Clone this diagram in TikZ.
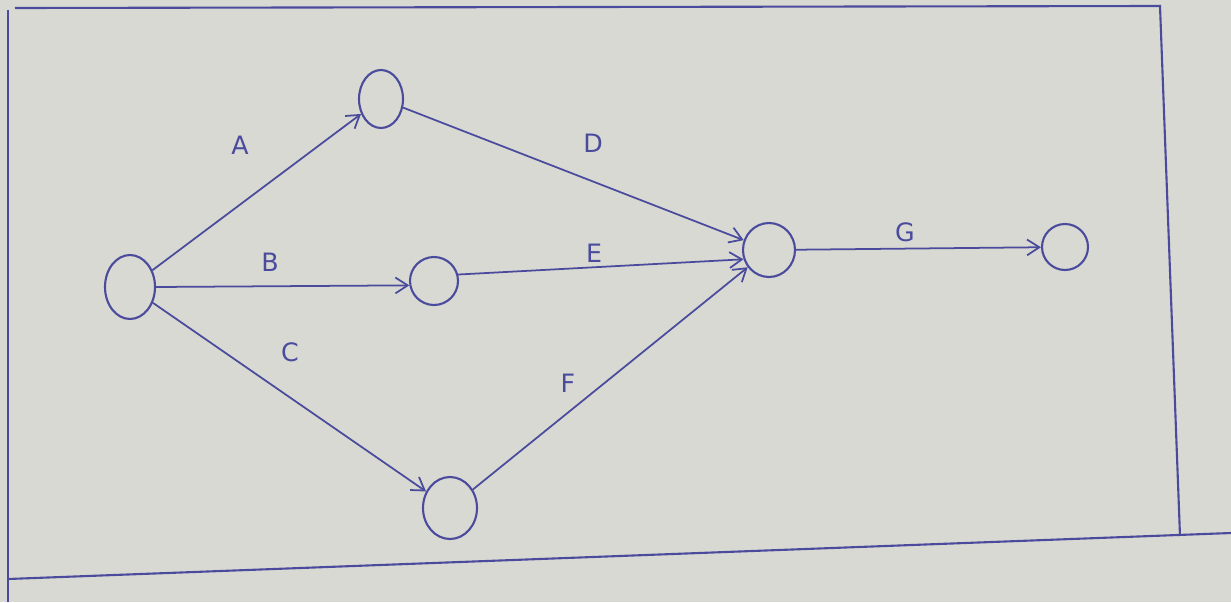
\documentclass[tikz,border=0pt]{standalone}
\usepackage{fontspec}
\setsansfont{DejaVu Sans}
\usetikzlibrary{arrows.meta,shapes.geometric}
\definecolor{pen}{HTML}{4B4B9E}
\definecolor{paper}{HTML}{D8D9D2}
\begin{document}
\begin{tikzpicture}[x=0.02cm,y=-0.02cm,
  ev/.style={draw=pen,line width=1.2pt,ellipse,inner sep=0pt},
  act/.style={draw=pen,line width=1pt,-{Straight Barb[length=7pt,width=9pt]}},
  lab/.style={text=pen,font=\sffamily\Large},
  frame/.style={draw=pen,line width=1.2pt}]
\fill[paper] (0,0) rectangle (1231,602);
\useasboundingbox (0,0) rectangle (1231,602);
% frame
\coordinate (f1) at (15,8);
\coordinate (f2) at (1160,6);
\coordinate (f3) at (1180,536);
\coordinate (f4) at (1231,533);
\coordinate (f5) at (8,579);
\coordinate (f6) at (8,602);
\coordinate (f7) at (8,10);
\draw[frame] (f1) -- (f2) -- (f3);
\draw[frame] (f5) -- (f4);
\draw[frame] (f7) -- (f6);
% events
\node[ev,minimum width=1.0cm,minimum height=1.28cm] (n1) at (130,287) {};
\node[ev,minimum width=0.88cm,minimum height=1.16cm] (n2) at (381,99) {};
\node[ev,minimum width=0.96cm,minimum height=0.96cm] (n3) at (434,281) {};
\node[ev,minimum width=1.08cm,minimum height=1.24cm] (n4) at (450,508) {};
\node[ev,minimum width=1.04cm,minimum height=1.08cm] (n5) at (769,250) {};
\node[ev,minimum width=0.92cm,minimum height=0.92cm] (n6) at (1065,247) {};
% activities
\draw[act] (n1) -- (n2);
\draw[act] (n1.east) -- (n3.-170);
\draw[act] (n1) -- (n4);
\draw[act] (n2) -- (n5);
\draw[act] (n3.15) -- (n5.-160);
\draw[act] (n4) -- (n5);
\draw[act] (n5) -- (n6);
% labels
\node[lab] (la) at (240,145) {A};
\node[lab] (lb) at (270,262) {B};
\node[lab] (lc) at (290,352) {C};
\node[lab] (ld) at (593,143) {D};
\node[lab] (le) at (594,253) {E};
\node[lab] (lf) at (568,383) {F};
\node[lab] (lg) at (905,232) {G};
\end{tikzpicture}
\end{document}
